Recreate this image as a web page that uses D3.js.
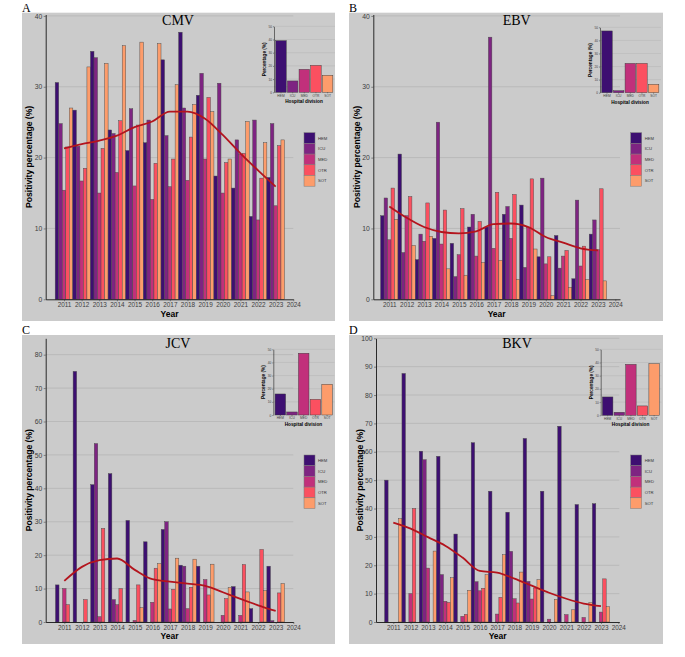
<!DOCTYPE html>
<html>
<head>
<meta charset="utf-8">
<script src="https://cdn.jsdelivr.net/npm/d3@7"></script>
<style>
  body { margin: 0; background: #fff; }
  svg { display: block; }
  text { font-family: "Liberation Sans", Arial, sans-serif; }
</style>
</head>
<body>
<svg id="fig" width="685" height="657"></svg>
<script>
// --- DATA ---
const divisions = ["HEM", "ICU", "MED", "OTR", "SOT"];
const years = [2011, 2012, 2013, 2014, 2015, 2016, 2017, 2018, 2019, 2020, 2021, 2022, 2023];
const yearTicks = [2011, 2012, 2013, 2014, 2015, 2016, 2017, 2018, 2019, 2020, 2021, 2022, 2023, 2024];
const divisionColors = ["#3d0f71", "#7e2482", "#c1307b", "#fb5060", "#fd9c6b"];

// one row per year, columns: HEM ICU MED OTR SOT
const cmvByYear = [
  [30.6, 24.8, 15.4, 21.5, 27.0],
  [26.7, 21.6, 16.7, 18.5, 32.8],
  [35.0, 34.1, 15.0, 21.3, 33.3],
  [23.9, 23.4, 17.9, 25.2, 35.8],
  [21.0, 26.9, 16.0, 24.6, 36.3],
  [22.1, 25.3, 14.1, 19.2, 36.1],
  [33.8, 23.1, 15.9, 19.8, 30.3],
  [37.7, 27.0, 16.8, 22.9, 27.5],
  [28.8, 31.9, 19.8, 28.5, 26.5],
  [17.4, 30.5, 15.0, 19.3, 19.8],
  [15.7, 22.5, 20.5, 20.6, 25.1],
  [11.7, 25.3, 11.2, 17.1, 22.1],
  [17.2, 24.8, 13.2, 21.7, 22.5]
];
const cmvTrend = [21.3, 21.9, 22.4, 23.1, 24.3, 25.1, 26.5, 26.5, 25.5, 23.2, 20.6, 18.2, 15.9];
const cmvDivision = [39.1, 8.6, 17.4, 20.4, 12.9];

const ebvByYear = [
  [11.8, 14.3, 8.4, 15.7, 11.3],
  [20.5, 6.6, 11.8, 14.5, 7.6],
  [5.6, 9.2, 8.2, 13.6, 8.9],
  [8.6, 25.0, 7.8, 12.6, 4.3],
  [7.9, 3.2, 6.3, 12.8, 3.4],
  [10.2, 12.0, 6.1, 11.0, 5.2],
  [10.2, 37.0, 7.2, 15.1, 5.5],
  [12.0, 13.1, 8.6, 14.8, 2.8],
  [13.3, 4.5, 10.1, 17.0, 7.1],
  [6.0, 17.1, 5.0, 6.0, 0.5],
  [9.0, 4.4, 6.1, 6.9, 1.7],
  [2.9, 14.0, 4.7, 7.5, 2.8],
  [9.2, 11.2, 7.0, 15.6, 2.6]
];
const ebvTrend = [13.1, 11.5, 10.2, 9.5, 9.3, 9.6, 10.6, 10.7, 10.2, 8.8, 8.0, 7.2, 6.9];
const ebvDivision = [47.2, 1.5, 22.4, 22.4, 6.4];

const jcvByYear = [
  [11.1, 0, 10.0, 5.2, 0],
  [75.0, 0, 0, 6.7, 0],
  [41.1, 53.4, 1.6, 28.0, 0],
  [44.4, 6.7, 5.2, 10.0, 0],
  [30.4, 0, 0.5, 11.1, 4.3],
  [24.0, 0, 5.9, 16.1, 17.5],
  [27.7, 30.0, 3.9, 9.8, 19.1],
  [17.0, 16.7, 4.0, 10.4, 18.8],
  [16.7, 0, 12.7, 8.1, 17.3],
  [0, 0, 2.0, 7.0, 10.3],
  [10.6, 0, 2.0, 17.2, 9.0],
  [4.0, 0, 0, 21.7, 9.4],
  [16.7, 0.4, 0, 8.7, 11.5]
];
const jcvTrend = [12.3, 16.5, 18.5, 19.0, 15.6, 12.8, 12.1, 11.5, 10.8, 8.9, 6.9, 5.0, 3.3];
const jcvDivision = [16.0, 2.3, 47.0, 11.9, 23.4];

const bkvByYear = [
  [50.0, 0, 0, 0, 36.4],
  [87.6, 0, 10.0, 40.0, 0],
  [60.2, 57.2, 19.0, 0, 25.0],
  [58.4, 16.7, 7.3, 6.9, 15.6],
  [31.0, 0, 2.0, 2.7, 11.2],
  [63.2, 14.2, 11.0, 11.9, 16.7],
  [46.1, 0, 2.8, 8.7, 23.7],
  [38.7, 24.9, 8.2, 6.7, 17.6],
  [64.7, 14.3, 8.1, 12.0, 14.9],
  [46.1, 0, 1.0, 0, 8.0],
  [69.0, 0, 2.6, 0, 4.3],
  [41.4, 0, 1.6, 0, 6.8],
  [41.7, 0, 3.5, 15.2, 5.4]
];
const bkvTrend = [35.0, 32.9, 29.9, 26.9, 22.7, 18.0, 17.4, 15.3, 12.8, 10.3, 8.2, 6.5, 5.6];
const bkvDivision = [13.9, 2.3, 38.6, 7.1, 39.1];

const ticks40 = [0, 10, 20, 30, 40];
const ticks80 = [0, 10, 20, 30, 40, 50, 60, 70, 80];
const ticks100 = [0, 10, 20, 30, 40, 50, 60, 70, 80, 90, 100];
const insetTicks = [0, 10, 20, 30, 40, 50];

// --- LAYOUT (one entry per panel) ---
const panels = [
  { letter: "A", title: "CMV", rows: cmvByYear, trend: cmvTrend, division: cmvDivision,
    yMax: 40.2, yTicks: ticks40, bg: [22, 12.7, 335, 321],
    plot: { left: 45.7, right: 293.3, top: 14.5, bottom: 299.3, x2011: 64, x2024: 293.3 },
    inset: { x: 274, right: 334, y0: 92.3, y50: 26.3 },
    legend: { x: 304, y: 132.7 }, titleX: 178, titleY: 25, letterY: 12 },
  { letter: "B", title: "EBV", rows: ebvByYear, trend: ebvTrend, division: ebvDivision,
    yMax: 40.2, yTicks: ticks40, bg: [349, 12.7, 663, 321],
    plot: { left: 373.3, right: 620, top: 14.5, bottom: 299.3, x2011: 389.3, x2024: 615.3 },
    inset: { x: 600, right: 660, y0: 92.7, y50: 27.3 },
    legend: { x: 630.7, y: 132.7 }, titleX: 516.7, titleY: 25, letterY: 12 },
  { letter: "C", title: "JCV", rows: jcvByYear, trend: jcvTrend, division: jcvDivision,
    yMax: 84.9, yTicks: ticks80, bg: [22, 335, 335, 644],
    plot: { left: 45.7, right: 293.3, top: 338.3, bottom: 622, x2011: 64.3, x2024: 293.3 },
    inset: { x: 273.3, right: 333.5, y0: 415, y50: 349.3 },
    legend: { x: 304, y: 455 }, titleX: 178, titleY: 348, letterY: 333.5 },
  { letter: "D", title: "BKV", rows: bkvByYear, trend: bkvTrend, division: bkvDivision,
    yMax: 100, yTicks: ticks100, bg: [349, 335, 663, 644],
    plot: { left: 376, right: 619.3, top: 338.3, bottom: 622, x2011: 393.3, x2024: 618.3 },
    inset: { x: 600.7, right: 660.5, y0: 415.3, y50: 349.3 },
    legend: { x: 630.7, y: 455 }, titleX: 517, titleY: 348, letterY: 333.5 }
];

const svg = d3.select("#fig");
svg.append("rect").attr("width", 685).attr("height", 657).attr("fill", "#fff");

function styleAxis(g, fontSize) {
  g.select(".domain").attr("stroke", "#000").attr("stroke-width", 0.8);
  g.selectAll(".tick line").attr("stroke", "#333").attr("stroke-width", 0.5);
  g.selectAll(".tick text")
    .attr("fill", "#404040")
    .style("font-size", fontSize + "px")
    .style("font-family", "'Liberation Sans', Arial, sans-serif");
}

function drawPanel(p) {
  const g = svg.append("g");
  const pl = p.plot;

  // background
  g.append("rect")
    .attr("x", p.bg[0]).attr("y", p.bg[1])
    .attr("width", p.bg[2] - p.bg[0]).attr("height", p.bg[3] - p.bg[1])
    .attr("fill", "#cbcbcb");

  // scales
  const yearScale = d3.scaleLinear().domain([2011, 2024]).range([pl.x2011, pl.x2024]);
  const x = d3.scaleLinear()
    .domain([yearScale.invert(pl.left), yearScale.invert(pl.right)])
    .range([pl.left, pl.right]);
  const y = d3.scaleLinear().domain([0, p.yMax]).range([pl.bottom, pl.top]);

  // gridlines
  g.selectAll(".grid").data(p.yTicks.filter(t => t > 0)).enter().append("line")
    .attr("x1", pl.left).attr("x2", pl.right)
    .attr("y1", d => y(d)).attr("y2", d => y(d))
    .attr("stroke", "#b5b5b5").attr("stroke-width", 0.8);

  // dodged bars: 5 divisions share one year
  const barW = x(0.2) - x(0);
  const barData = [];
  p.rows.forEach((row, i) => {
    row.forEach((v, j) => {
      if (v > 0) barData.push({ year: years[i], j, v });
    });
  });
  g.selectAll(".bar").data(barData).enter().append("rect")
    .attr("x", d => x(d.year - 0.5 + d.j * 0.2))
    .attr("y", d => y(d.v))
    .attr("width", barW)
    .attr("height", d => y(0) - y(d.v))
    .attr("fill", d => divisionColors[d.j])
    .attr("stroke", "#4a4a4a")
    .attr("stroke-width", 0.45);

  // trend line
  const line = d3.line()
    .x((d, i) => x(years[i]))
    .y(d => y(d))
    .curve(d3.curveMonotoneX);
  g.append("path")
    .attr("d", line(p.trend))
    .attr("fill", "none")
    .attr("stroke", "#b3141d")
    .attr("stroke-width", 1.8);

  // axes
  const yAxis = g.append("g")
    .attr("transform", `translate(${pl.left},0)`)
    .call(d3.axisLeft(y).tickValues(p.yTicks).tickSize(2).tickSizeOuter(0).tickPadding(1.5));
  styleAxis(yAxis, 6.8);

  const xAxis = g.append("g")
    .attr("transform", `translate(0,${pl.bottom})`)
    .call(d3.axisBottom(x).tickValues(yearTicks).tickFormat(d3.format("d"))
      .tickSize(2).tickSizeOuter(0).tickPadding(1.5));
  styleAxis(xAxis, 6.4);

  const midX = (pl.left + pl.right) / 2;
  g.append("text")
    .attr("x", midX).attr("y", pl.bottom + 17.4)
    .attr("text-anchor", "middle")
    .style("font-size", "8.5px").style("font-weight", "bold")
    .text("Year");

  g.append("text")
    .attr("transform", `translate(${pl.left - 16.5},${(pl.top + pl.bottom) / 2}) rotate(-90)`)
    .attr("text-anchor", "middle")
    .attr("dy", "0.35em")
    .style("font-size", "8.6px").style("font-weight", "bold")
    .text("Positivity percentage (%)");

  // title and panel letter
  g.append("text")
    .attr("x", p.titleX).attr("y", p.titleY)
    .attr("text-anchor", "middle")
    .style("font-family", "'Liberation Serif', 'Times New Roman', serif")
    .style("font-size", "14px")
    .text(p.title);

  svg.append("text")
    .attr("x", p.bg[0]).attr("y", p.letterY)
    .style("font-family", "'Liberation Serif', 'Times New Roman', serif")
    .style("font-size", "12px")
    .text(p.letter);

  drawInset(g, p);
  drawLegend(g, p.legend);
}

function drawInset(g, p) {
  const ins = p.inset;
  const iy = d3.scaleLinear().domain([0, 50]).range([ins.y0, ins.y50]);
  const ix = d3.scaleBand().domain(divisions).range([ins.x + 0.6, ins.right]).padding(0.1);

  g.selectAll(".igrid").data(insetTicks.filter(t => t > 0)).enter().append("line")
    .attr("x1", ins.x).attr("x2", ins.right + 1)
    .attr("y1", d => iy(d)).attr("y2", d => iy(d))
    .attr("stroke", "#b5b5b5").attr("stroke-width", 0.5);

  g.selectAll(".ibar").data(p.division).enter().append("rect")
    .attr("x", (d, i) => ix(divisions[i]))
    .attr("y", d => iy(d))
    .attr("width", ix.bandwidth())
    .attr("height", d => iy(0) - iy(d))
    .attr("fill", (d, i) => divisionColors[i])
    .attr("stroke", "#3a3a3a")
    .attr("stroke-width", 0.45);

  const ya = g.append("g")
    .attr("transform", `translate(${ins.x},0)`)
    .call(d3.axisLeft(iy).tickValues(insetTicks).tickSize(1).tickSizeOuter(0).tickPadding(1));
  styleAxis(ya, 3.2);
  ya.select(".domain").attr("stroke-width", 0.5);

  const xa = g.append("g")
    .attr("transform", `translate(0,${ins.y0})`)
    .call(d3.axisBottom(ix).tickSize(1).tickSizeOuter(0).tickPadding(1));
  styleAxis(xa, 3.3);
  xa.select(".domain").remove();

  g.append("text")
    .attr("x", (ins.x + ins.right) / 2).attr("y", ins.y0 + 10.8)
    .attr("text-anchor", "middle")
    .style("font-size", "4.7px").style("font-weight", "bold")
    .text("Hospital division");

  g.append("text")
    .attr("transform", `translate(${ins.x - 9.5},${(ins.y0 + ins.y50) / 2}) rotate(-90)`)
    .attr("text-anchor", "middle")
    .attr("dy", "0.35em")
    .style("font-size", "4.7px").style("font-weight", "bold")
    .text("Percentage (%)");
}

function drawLegend(g, lg) {
  const keyH = 10.7;
  const items = g.selectAll(".key").data(divisions).enter().append("g")
    .attr("transform", (d, i) => `translate(${lg.x},${lg.y + i * keyH})`);
  items.append("rect")
    .attr("width", 11).attr("height", keyH)
    .attr("fill", (d, i) => divisionColors[i])
    .attr("stroke", "#7a7a7a").attr("stroke-width", 0.5);
  items.append("text")
    .attr("x", 14).attr("y", keyH / 2).attr("dy", "0.35em")
    .style("font-size", "4.2px").attr("fill", "#333")
    .text(d => d);
}

panels.forEach(drawPanel);
</script>
</body>
</html>
